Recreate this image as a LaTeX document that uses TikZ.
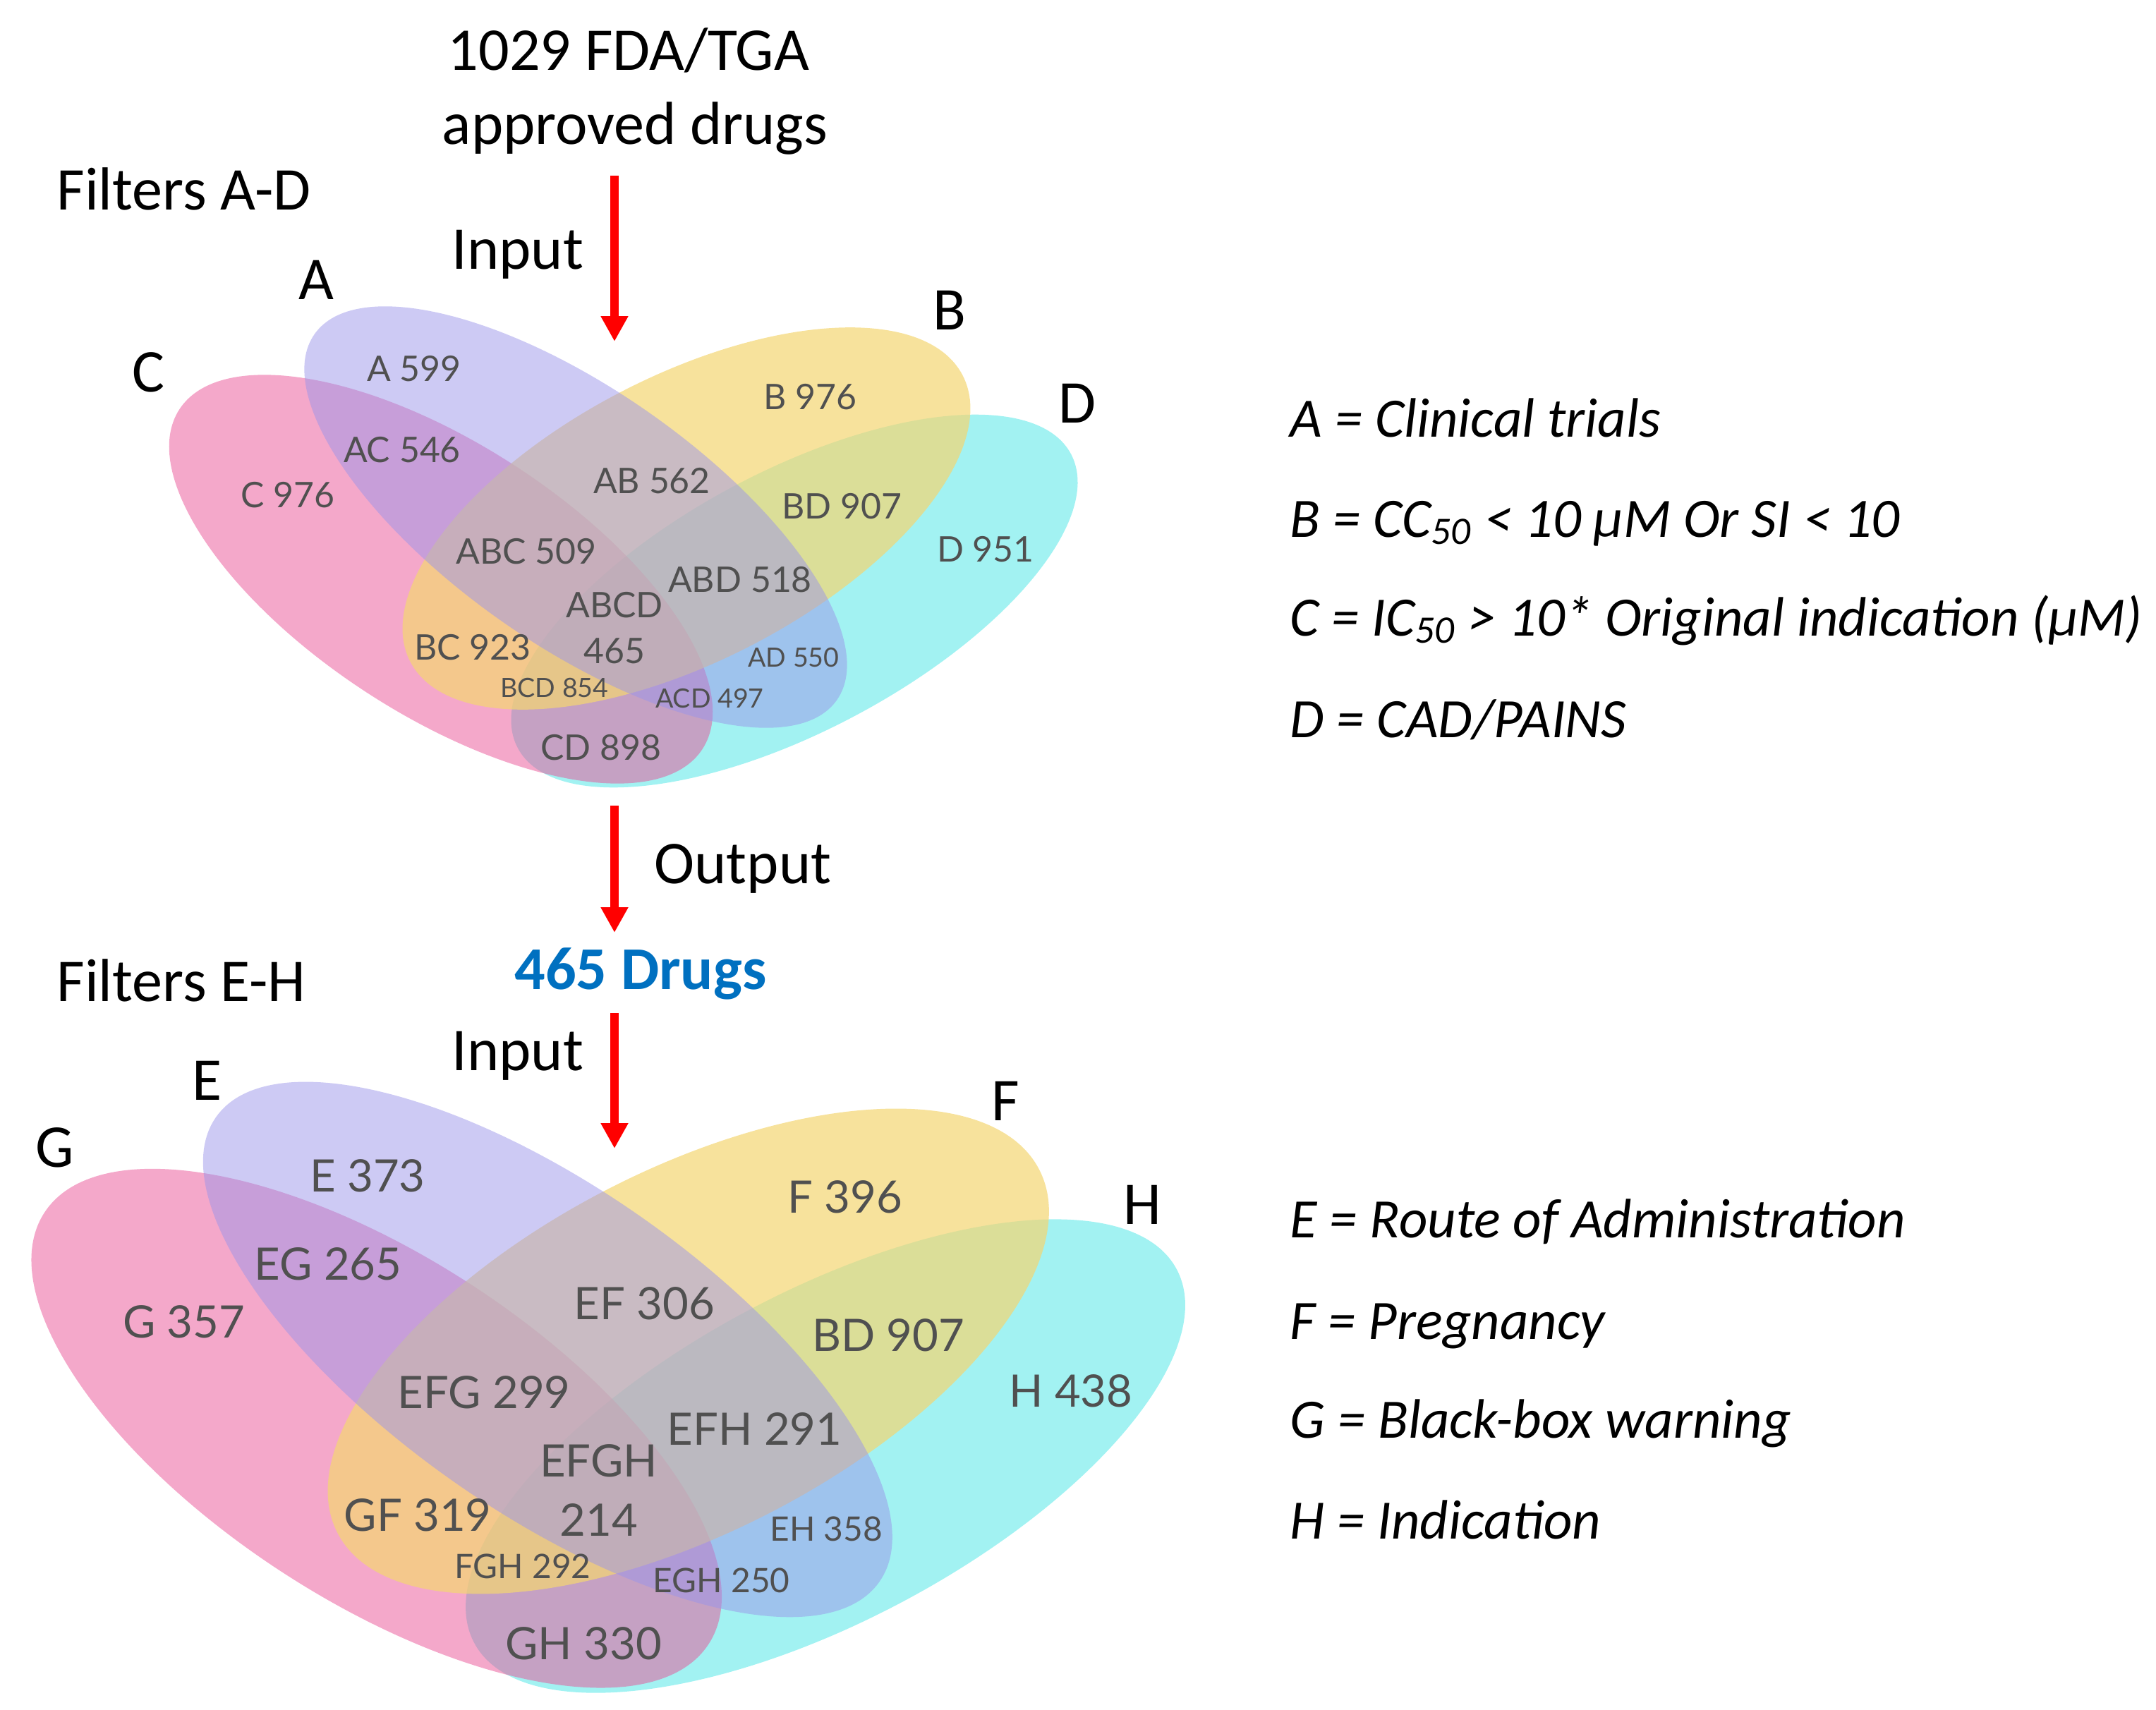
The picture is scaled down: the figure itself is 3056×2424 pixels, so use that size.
\documentclass[tikz,border=0pt]{standalone}
\usepackage{fontspec}
\setmainfont{Carlito}
\newfontfamily\latofont{Lato}
\usetikzlibrary{arrows.meta}

\definecolor{vennA}{RGB}{155,149,233}
\definecolor{vennB}{RGB}{244,214,114}
\definecolor{vennC}{RGB}{233,81,149}
\definecolor{vennD}{RGB}{69,229,229}
\definecolor{lblgray}{RGB}{80,80,80}
\definecolor{drugblue}{RGB}{0,112,192}
\definecolor{flowred}{RGB}{255,0,0}

% the four tilted sets, drawn back to front
\newcommand\vennsets{%
  \foreach \cx/\cy/\rx/\ry/\ang/\col/\op in {1126/852/444/184/28/vennD/0.5, 625/821/442/192/-33/vennC/0.5,
      973/735/441/202/27.4/vennB/0.7, 816/733/452/181/-35/vennA/0.5} {
    \fill[fill=\col, fill opacity=\op, rotate around={\ang:(\cx,\cy)}] (\cx,\cy) ellipse [x radius=\rx, y radius=\ry];
  }}

\begin{document}
\begin{tikzpicture}[x=0.01cm, y=-0.01cm,
    txt/.style={font=\fontsize{24.5}{29}\selectfont, anchor=base, inner sep=0pt},
    lgd/.style={txt, anchor=base west, font=\fontsize{22.4}{27}\selectfont\itshape},
    lbl/.style={font=\latofont\fontsize{14.2}{17}\selectfont, text=lblgray, inner sep=0pt},
    lbls/.style={lbl, font=\latofont\fontsize{10.7}{13}\selectfont},
    flow/.style={draw=flowred, line width=3.4pt, -{Triangle[width=10.4pt,length=10.2pt]}}]
  \useasboundingbox (0,0) rectangle (3056,2424);

  % filters A-D
  \vennsets
  \foreach \t/\x/\y[count=\i] in {A 599/587/523, B 976/1148/563, C 976/408/702, D 951/1397/779,
      AC 546/570/638, AB 562/924/682, BD 907/1193/718, ABC 509/746/782, ABD 518/1049/822,
      ABCD/871/858, 465/871/923, BC 923/670/918, CD 898/852/1060} {
    \node[lbl] (u\i) at (\x,\y) {\t};
  }
  \foreach \t/\x/\y[count=\i] in {AD 550/1125/932, BCD 854/786/975, ACD 497/1006/990} {
    \node[lbls] (us\i) at (\x,\y) {\t};
  }

  % filters E-H
  \begin{scope}[shift={(-260,982)}, scale=1.27, transform shape]
    \vennsets
    \foreach \t/\x/\y[count=\i] in {E 373/615/539, F 396/1148/563, G 357/410/702, H 438/1400/779,
        EG 265/571/638, EF 306/924/682, BD 907/1196/717, EFG 299/745/781, EFH 291/1047/822,
        EFGH/873/857, 214/873/923, GF 319/671/918, GH 330/856/1061} {
      \node[lbl] (l\i) at (\x,\y) {\t};
    }
    \foreach \t/\x/\y[count=\i] in {EH 358/1127/933, FGH 292/788/975, EGH 250/1010/991} {
      \node[lbls] (ls\i) at (\x,\y) {\t};
    }
  \end{scope}

  \node[txt] (src1) at (891,100) {1029 FDA/TGA};
  \node[txt] (src2) at (900,204) {approved drugs};
  \node[txt, anchor=base west] (filt1) at (80,297) {Filters A-D};
  \node[txt] (in1) at (734,381) {Input};
  \node[txt] (setA) at (448,424) {A};
  \node[txt] (setB) at (1346,467) {B};
  \node[txt] (setC) at (210,555) {C};
  \node[txt] (setD) at (1527,599) {D};

  \node[txt, anchor=base west] (out) at (927,1252) {Output};
  \node[txt, font=\fontsize{24.5}{29}\selectfont\bfseries, text=drugblue] (res) at (908,1402) {465 Drugs};
  \node[txt, anchor=base west] (filt2) at (80,1419) {Filters E-H};
  \node[txt] (in2) at (734,1517) {Input};
  \node[txt] (setE) at (294,1559) {E};
  \node[txt] (setF) at (1425,1588) {F};
  \node[txt] (setG) at (78,1654) {G};
  \node[txt] (setH) at (1619,1735) {H};

  \coordinate (a1s) at (871,249);  \coordinate (a1e) at (871,484);
  \coordinate (a2s) at (871,1142); \coordinate (a2e) at (871,1322);
  \coordinate (a3s) at (871,1436); \coordinate (a3e) at (871,1628);
  \draw[flow] (a1s) -- (a1e);
  \draw[flow] (a2s) -- (a2e);
  \draw[flow] (a3s) -- (a3e);

  % legend
  \node[lgd] (defA) at (1828,619) {A = Clinical trials};
  \node[lgd] (defB) at (1828,761) {B = CC\textsubscript{50} < 10 µM Or SI < 10};
  \node[lgd] (defC) at (1828,901) {C = IC\textsubscript{50} > 10* Original indication (µM)};
  \node[lgd] (defD) at (1828,1045) {D = CAD/PAINS};
  \node[lgd] (defE) at (1828,1754) {E = Route of Administration};
  \node[lgd] (defF) at (1828,1898) {F = Pregnancy};
  \node[lgd] (defG) at (1828,2038) {G = Black-box warning};
  \node[lgd] (defH) at (1828,2181) {H = Indication};
\end{tikzpicture}
\end{document}
